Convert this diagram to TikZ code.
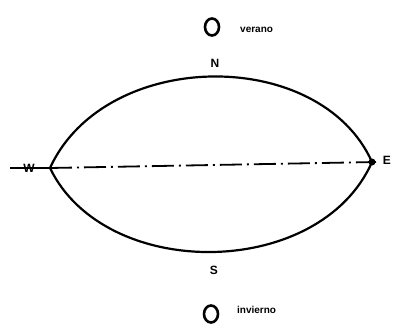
\documentclass[tikz,border=0pt]{standalone}
\usepackage{fontspec}
\setmainfont{Liberation Sans}
\usetikzlibrary{shapes.geometric}
\begin{document}
\begin{tikzpicture}[x=1pt,y=-1pt,
  lbl/.style={font=\bfseries\fontsize{12}{12}\selectfont, inner sep=0pt},
  word/.style={font=\bfseries\fontsize{10}{10}\selectfont, inner sep=0pt, anchor=west},
  sun/.style={draw, line width=2.6pt, ellipse, minimum width=14pt, minimum height=17pt, inner sep=0pt},
  arc/.style={line width=2.2pt},
  axis/.style={line width=1.8pt, dash pattern=on 22pt off 5pt on 2pt off 5pt}]
\useasboundingbox (0,0) rectangle (397,332);
\coordinate (W) at (50,168);
\coordinate (E) at (372,162);
\coordinate (Lend) at (10,168);
\coordinate (Rend) at (376,162);
% lens
\draw[arc] (W) .. controls (105,48) and (320,46) .. (E);
\draw[arc] (W) .. controls (105,282) and (320,280) .. (E);
% axis
\draw[line width=1.8pt] (Lend) -- (W);
\draw[axis] (W) -- (Rend);
\fill (E) circle (3.5pt);
% labels
\node[lbl] (w) at (29,168) {W};
\node[lbl] (e) at (387,160) {E};
\node[lbl] (n) at (215,63) {N};
\node[lbl] (s) at (214,270) {S};
% suns
\node[sun] (top) at (212,27) {};
\node[word] (ver) at (240,30) {verano};
\node[sun] (bot) at (211,314) {};
\node[word] (inv) at (237,310) {invierno};
\end{tikzpicture}
\end{document}
